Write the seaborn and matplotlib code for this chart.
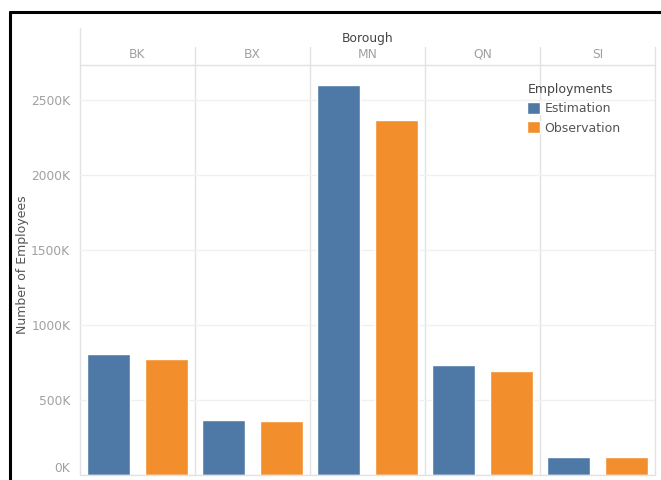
import pandas as pd
import matplotlib.pyplot as plt
import seaborn as sns
from matplotlib.lines import Line2D
from matplotlib.ticker import FuncFormatter

boroughs = ['BK', 'BX', 'MN', 'QN', 'SI']
estimation = [807000, 367000, 2600000, 733000, 120000]
observation = [773000, 360000, 2367000, 693000, 118000]
series = ['Estimation', 'Observation']
colors = ['#4e79a7', '#f28e2b']

df = pd.DataFrame({
    'Borough': boroughs * 2,
    'Employments': ['Estimation'] * 5 + ['Observation'] * 5,
    'Employees': estimation + observation,
})

sns.set_style('white')
plt.rcParams['font.family'] = ['DejaVu Sans']

fig = plt.figure(figsize=(6.61, 4.8), dpi=100)
ax = fig.add_axes([0.121, 0.0104, 0.870, 0.8546])

sns.barplot(data=df, x='Borough', y='Employees', hue='Employments',
            order=boroughs, hue_order=series, palette=colors,
            width=1.0, gap=0.25, ax=ax, errorbar=None, saturation=1)

ax.set_xlim(-0.5, len(boroughs) - 0.5)
ax.set_ylim(0, 2733000)
ax.set_yticks([0, 500000, 1000000, 1500000, 2000000, 2500000])
ax.yaxis.set_major_formatter(FuncFormatter(lambda v, p: f'{int(v / 1000)}K'))
ax.tick_params(axis='y', length=0, labelsize=8.8, labelcolor='#a0a0a0', pad=7)
ax.grid(axis='y', color='#f0f0f0', linewidth=1)
ax.set_axisbelow(True)
fig.canvas.draw()
ax.get_yticklabels()[0].set_va('bottom')

# column headers on top
ax.xaxis.tick_top()
ax.xaxis.set_label_position('top')
ax.tick_params(axis='x', length=0, labelsize=8.8, labelcolor='#a0a0a0', pad=3)
ax.set_xlabel('Borough', fontsize=8.8, color='#444444', labelpad=4)
ax.set_ylabel('Number of Employees', fontsize=9, color='#555555')
ax.yaxis.set_label_coords(-0.088, 0.512)

for s in ax.spines.values():
    s.set_visible(False)

# panel separators
for i in range(len(boroughs) + 1):
    x = i - 0.5
    top = 1.09 if i == 0 else 1.044
    ax.plot([x, x], [0, top], transform=ax.get_xaxis_transform(),
            color='#e2e2e2', linewidth=1, clip_on=False, zorder=0)
ax.plot([-0.5, len(boroughs) - 0.5], [1, 1], transform=ax.get_xaxis_transform(),
        color='#e2e2e2', linewidth=1, clip_on=False)
ax.plot([-0.5, len(boroughs) - 0.5], [0, 0], transform=ax.get_xaxis_transform(),
        color='#e2e2e2', linewidth=1, clip_on=False)

leg = ax.legend(title='Employments', loc='upper left', frameon=False,
                fontsize=9, title_fontsize=9, handlelength=1.0,
                handleheight=1.1, handletextpad=0.35, labelspacing=0.5,
                bbox_to_anchor=(0.765, 0.975), alignment='left',
                borderaxespad=0.2)
for t in leg.get_texts():
    t.set_color('#555555')
leg.get_title().set_color('#444444')

# outer black frame (top and left)
fig.add_artist(Line2D([0.015, 1.0], [0.975, 0.975], color='black', linewidth=2.2))
fig.add_artist(Line2D([0.015, 0.015], [0.0, 0.975], color='black', linewidth=2.2))

fig.savefig('out.png', dpi=100)
